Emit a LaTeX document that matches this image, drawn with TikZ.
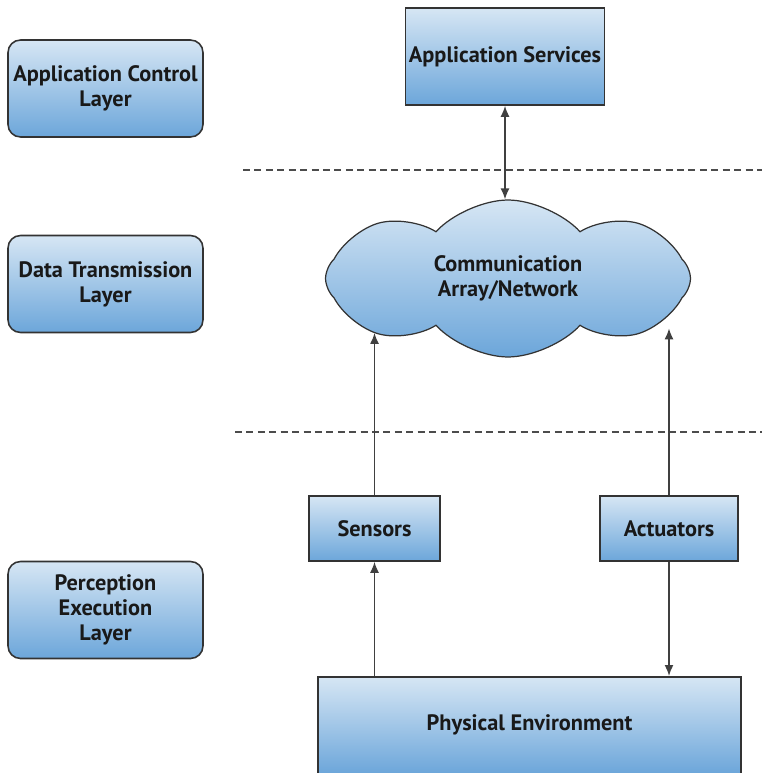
\documentclass[tikz,border=0pt]{standalone}
\usepackage{fontspec}
\setmainfont{PT Sans}
\usetikzlibrary{shapes.symbols,arrows.meta}
\definecolor{boxtop}{HTML}{D6E6F4}
\definecolor{boxbot}{HTML}{6CA6DA}
\definecolor{edgegray}{HTML}{333333}
\tikzset{
	shadedbox/.style={draw=edgegray,line width=0.9pt,top color=boxtop,bottom color=boxbot,
		font=\fontsize{12.7}{14.2}\selectfont\bfseries,text=black!90,align=center,inner sep=2pt},
	layerbox/.style={shadedbox,rounded corners=0.25cm,minimum width=3.9cm,minimum height=1.94cm},
	link/.style={draw=black!75,line width=0.9pt,-{Latex[length=2.2mm,width=1.8mm]}},
	boundary/.style={draw=black!70,line width=0.7pt,dash pattern=on 4pt off 2.5pt}
}

\begin{document}
\begin{tikzpicture}[x=0.02cm,y=-0.02cm]
	\clip (0,0) rectangle (762,773);

	% layers
	\node[layerbox] (appctl) at (105.5,88.5) {Application Control\\Layer};
	\node[layerbox] (datatx) at (105.5,284) {Data Transmission\\Layer};
	\node[layerbox] (percept) at (105.5,610) {Perception\\Execution\\Layer};

	\draw[boundary] (243,170) -- (762,170);
	\draw[boundary] (235,432) -- (762,432);

	\node[shadedbox,minimum width=3.92cm,minimum height=1.94cm] (appsvc) at (505,56.5) {Application Services};
	\node[shadedbox,cloud,cloud puffs=8,cloud puff arc=95,aspect=2.4,
		minimum width=7.3cm,minimum height=3.14cm,line width=0.7pt] (comm) at (508,278.5) {Communication\\Array/Network};
	\node[shadedbox,minimum width=2.62cm,minimum height=1.3cm] (sensors) at (374.5,528.5) {Sensors};
	\node[shadedbox,minimum width=2.76cm,minimum height=1.3cm] (actuators) at (669,528.5) {Actuators};
	\node[shadedbox,anchor=north,minimum width=8.46cm,minimum height=1.94cm] (physenv) at (529.5,676) {Physical Environment};

	\draw[link,{Latex[length=2.2mm,width=1.8mm]}-{Latex[length=2.2mm,width=1.8mm]}] (appsvc.south) -- (appsvc.south |- comm.north);
	\draw[link] (sensors.north) -- (sensors.north |- comm.202);
	\draw[link] (actuators.north) -- (actuators.north |- comm.341);
	\draw[link] (sensors.south |- physenv.north) -- (sensors.south);
	\draw[link] (actuators.south) -- (actuators.south |- physenv.north);
\end{tikzpicture}
\end{document}
